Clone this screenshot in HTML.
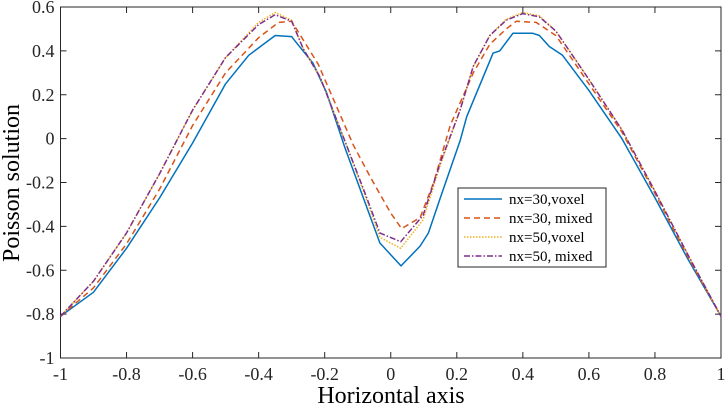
<!DOCTYPE html>
<html><head><meta charset="utf-8"><style>
body{margin:0;background:#fff;}
svg{display:block;font-family:"Liberation Serif",serif;}
</style></head><body>
<svg id="chart" width="726" height="407" viewBox="0 0 726 407" xmlns="http://www.w3.org/2000/svg">
<g id="axes"></g><g id="series"></g><g id="legend"></g>
</svg>
<script>
const xTicks=[-1,-0.8,-0.6,-0.4,-0.2,0,0.2,0.4,0.6,0.8,1];
const xTickLabels=["-1","-0.8","-0.6","-0.4","-0.2","0","0.2","0.4","0.6","0.8","1"];
const yTicks=[-1,-0.8,-0.6,-0.4,-0.2,0,0.2,0.4,0.6];
const yTickLabels=["-1","-0.8","-0.6","-0.4","-0.2","0","0.2","0.4","0.6"];
const seriesNames=["nx=30,voxel","nx=30, mixed","nx=50,voxel","nx=50, mixed"];
const xs1=[-1,-0.9,-0.8,-0.7,-0.6,-0.5,-0.43,-0.35,-0.3,-0.295,-0.235,-0.194,-0.139,-0.1,-0.033,0.031,0.089,0.114,0.15,0.21,0.23,0.31,0.33,0.37,0.43,0.45,0.48,0.52,0.6,0.7,0.8,0.9,1];
const ys1=[-0.81,-0.7,-0.5,-0.27,-0.02,0.25,0.38,0.47,0.465,0.455,0.343,0.208,-0.04,-0.2,-0.476,-0.58,-0.49,-0.43,-0.27,-0.01,0.1,0.39,0.4,0.48,0.48,0.47,0.42,0.38,0.22,0.0,-0.27,-0.55,-0.81];
const xs2=[-1,-0.9,-0.8,-0.7,-0.6,-0.5,-0.4,-0.34,-0.3,-0.265,-0.22,-0.164,-0.113,-0.06,0,0.033,0.089,0.13,0.18,0.25,0.3,0.35,0.38,0.44,0.5,0.6,0.7,0.8,0.9,1];
const ys2=[-0.81,-0.68,-0.48,-0.23,0.06,0.3,0.46,0.53,0.535,0.45,0.34,0.146,-0.03,-0.18,-0.34,-0.41,-0.36,-0.2,0.06,0.3,0.43,0.5,0.535,0.53,0.47,0.25,0.03,-0.25,-0.54,-0.81];
const xs3=[-1,-0.9,-0.8,-0.7,-0.6,-0.5,-0.4,-0.35,-0.3,-0.265,-0.214,-0.134,-0.08,-0.033,0.03,0.098,0.15,0.21,0.25,0.3,0.35,0.4,0.45,0.5,0.6,0.7,0.8,0.9,1];
const ys3=[-0.81,-0.65,-0.43,-0.16,0.13,0.37,0.53,0.575,0.54,0.41,0.28,-0.03,-0.25,-0.45,-0.5,-0.37,-0.12,0.13,0.33,0.47,0.545,0.575,0.56,0.49,0.27,0.04,-0.24,-0.53,-0.81];
const ys4=[-0.81,-0.65,-0.43,-0.16,0.13,0.37,0.52,0.565,0.535,0.41,0.28,-0.03,-0.24,-0.43,-0.47,-0.35,-0.11,0.13,0.33,0.47,0.54,0.57,0.555,0.49,0.27,0.04,-0.24,-0.53,-0.81];
const L=60.5,R=721,T=7,B=358,xmin=-1,xmax=1,ymin=-1,ymax=0.6;
const sx=v=>L+(v-xmin)/(xmax-xmin)*(R-L);
const sy=v=>B-(v-ymin)/(ymax-ymin)*(B-T);
const NS="http://www.w3.org/2000/svg";
function mk(t,a,p){const e=document.createElementNS(NS,t);for(const k in a)e.setAttribute(k,a[k]);p.appendChild(e);return e;}
const ax=document.getElementById('axes');
let box=mk('rect',{x:L,y:T,width:R-L,height:B-T,fill:'none',stroke:'#262626','stroke-width':1},ax);


xTicks.forEach((v,i)=>{
 const x=sx(v);
 mk('line',{x1:x,x2:x,y1:B,y2:B-6,stroke:'#262626'},ax);
 mk('line',{x1:x,x2:x,y1:T,y2:T+6,stroke:'#262626'},ax);
 const t=mk('text',{x:x,y:B+22,'text-anchor':'middle','font-size':18,fill:'#262626'},ax);
 t.textContent=xTickLabels[i];
 
 
});
yTicks.forEach((v,i)=>{
 const y=sy(v);
 mk('line',{x1:L,x2:L+6,y1:y,y2:y,stroke:'#262626'},ax);
 mk('line',{x1:R,x2:R-6,y1:y,y2:y,stroke:'#262626'},ax);
 const t=mk('text',{x:L-6,y:y+6,'text-anchor':'end','font-size':18,fill:'#262626'},ax);
 t.textContent=yTickLabels[i];
 
 
});
let xt=mk('text',{x:391,y:403,'text-anchor':'middle','font-size':24,fill:'#000'},ax);
xt.textContent='Horizontal axis';


let yt=mk('text',{x:0,y:0,'text-anchor':'middle','font-size':24,fill:'#000',transform:'translate(19,183) rotate(-90)'},ax);
yt.textContent='Poisson solution';


const styles=[
 {c:'#0072BD',d:'',w:1.5},
 {c:'#D95319',d:'6,4',w:1.5},
 {c:'#EDB120',d:'1.5,1.5',w:1.5},
 {c:'#7E2F8E',d:'6,2,1.5,2',w:1.5}];
const data=[[xs1,ys1],[xs2,ys2],[xs3,ys3],[xs3,ys4]];
const sg=document.getElementById('series');
data.forEach((d,i)=>{
 const pts=d[0].map((x,j)=>sx(x).toFixed(1)+','+sy(d[1][j]).toFixed(1)).join(' ');
 const p=mk('polyline',{points:pts,fill:'none',stroke:styles[i].c,'stroke-width':styles[i].w,'stroke-dasharray':styles[i].d,'stroke-linejoin':'round'},sg);
 
 
});
const lg=document.getElementById('legend');
const lb=mk('rect',{x:458,y:188,width:148,height:79,fill:'#fff',stroke:'#262626','stroke-width':1},lg);


seriesNames.forEach((n,i)=>{
 const y=199+i*19;
 mk('line',{x1:464,x2:502,y1:y,y2:y,stroke:styles[i].c,'stroke-width':styles[i].w,'stroke-dasharray':styles[i].d},lg);
 const t=mk('text',{x:509,y:y+5,'font-size':15,fill:'#000'},lg);
 t.textContent=n;
 
 
});
</script>
</body></html>
